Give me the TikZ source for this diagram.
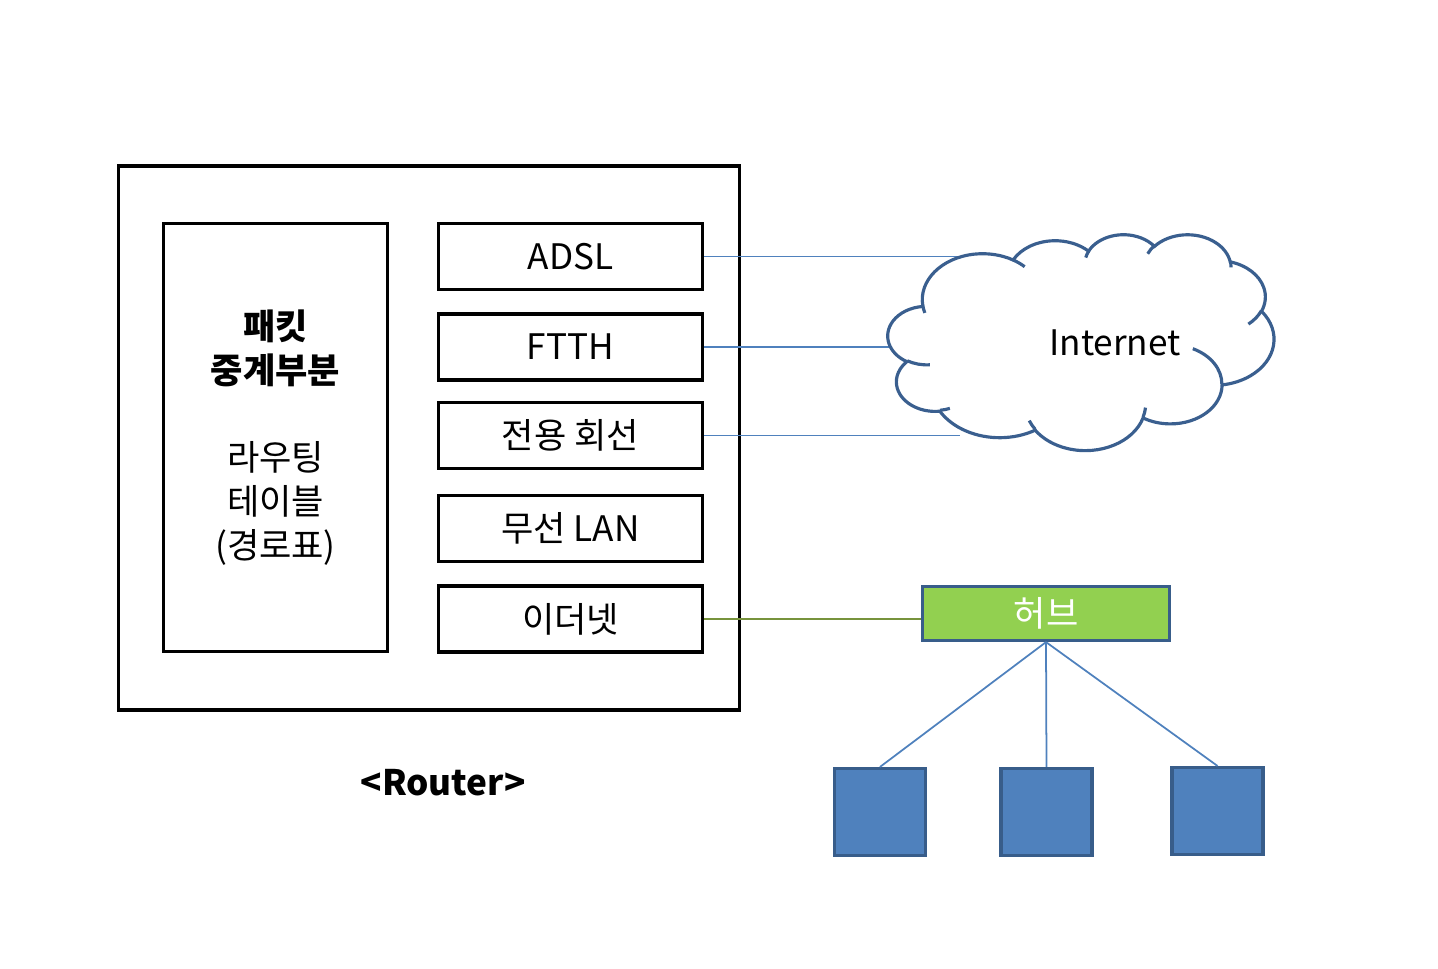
\documentclass[tikz,border=0pt]{standalone}
\usepackage{fontspec}
\setmainfont{Noto Sans CJK KR}
\definecolor{linkblue}{HTML}{4F81BD}
\definecolor{edgeblue}{HTML}{385D8A}
\definecolor{cloudblue}{HTML}{3A5F8F}
\definecolor{hubgreen}{HTML}{92D050}
\definecolor{olive}{HTML}{77933C}
% one lobe of the cloud, angles given as seen on the ellipse
\newcommand{\cloudlobe}[4]{arc[x radius=#1, y radius=#2,
    start angle={atan2(#1*sin(#3),#2*cos(#3))},
    delta angle={Mod(atan2(#1*sin(#3+#4),#2*cos(#3+#4))-atan2(#1*sin(#3),#2*cos(#3)),360)}]}
\begin{document}
\begin{tikzpicture}[x=0.02cm, y=-0.02cm]
        \tikzstyle{boxstyle}=[draw, line width=1.9pt, inner sep=0pt, font=\fontsize{20pt}{25pt}\selectfont]
        \tikzstyle{portstyle}=[boxstyle, minimum width=5.28cm, minimum height=1.32cm]
        \tikzstyle{pcstyle}=[draw=edgeblue, fill=linkblue, line width=1.8pt, minimum width=1.82cm, minimum height=1.74cm]
        \tikzstyle{linkstyle}=[draw=linkblue, line width=1pt]
        \useasboundingbox (0,0) rectangle (1438,968);

        % the router with its parts
        \node[boxstyle, minimum width=12.42cm, minimum height=10.88cm] at (429,438) (router) {};
        \node[boxstyle, minimum width=4.48cm, minimum height=8.56cm, align=center] at (275.5,437.5) (table)
            {\textbf{패킷}\\\textbf{중계부분}\\[25pt]라우팅\\테이블\\(경로표)};
        \node[portstyle] at (570.5,256.5) (adsl) {ADSL};
        \node[portstyle] at (570.5,347) (ftth) {FTTH};
        \node[portstyle] at (570.5,435.5) (leased) {전용 회선};
        \node[portstyle] at (570.5,528.5) (wlan) {무선 LAN};
        \node[portstyle] at (570.5,619) (ether) {이더넷};
        \node[font=\bfseries\fontsize{20pt}{24pt}\selectfont] at (443,783) (routerlabel) {<Router>};

        % lines into the cloud
        \coordinate (adslend) at (960,257);
        \coordinate (ftthend) at (895,347);
        \coordinate (leasedend) at (960,436);
        \draw[linkstyle] (adsl.east) -- (adsl.east -| adslend);
        \draw[linkstyle] (ftth.east) -- (ftth.east -| ftthend);
        \draw[linkstyle] (leased.east) -- (leased.east -| leasedend);

        % the cloud
        \begin{scope}[shift={(888,234)}, x=0.01787cm, y=-0.01cm, draw=cloudblue, line width=1.8pt]
            \draw[fill=white] (39,143.7) \cloudlobe{67.53}{91.90}{-190.4875}{123.7805}
                \cloudlobe{53.33}{72.67}{-144.1024}{89.9452}
                \cloudlobe{43.65}{59.45}{-145.8079}{99.7230}
                \cloudlobe{48.57}{65.95}{-130.9861}{117.2417}
                \cloudlobe{53.33}{72.73}{-78.7089}{109.0269}
                \cloudlobe{67.75}{92.20}{-46.2673}{130.2690}
                \cloudlobe{57.85}{78.67}{0.6250}{114.0333}
                \cloudlobe{67.52}{92.15}{22.4516}{115.1726}
                \cloudlobe{77.20}{105.43}{66.2426}{75.7110}
                \cloudlobe{43.60}{59.18}{-274.9421}{146.7356}
                \cloudlobe{43.45}{59.45}{-246.8285}{152.5189} -- cycle;
            \draw (46.93,261.77) \cloudlobe{43.45}{59.45}{86.7420}{26.4295}
                (69.28,348.99) \cloudlobe{43.60}{59.18}{73.6105}{11.4475}
                (164.78,390.90) \cloudlobe{67.52}{92.15}{137.6242}{14.0811}
                (288.27,347.51) \cloudlobe{67.52}{92.15}{6.4533}{15.9984}
                (341.29,229.54) \cloudlobe{57.85}{78.67}{-70.2924}{70.9174}
                (417.98,153.54) \cloudlobe{53.33}{72.73}{30.3180}{27.7515}
                (383.24,54.26) \cloudlobe{48.57}{65.95}{-13.7443}{14.8589}
                (290.78,39.52) \cloudlobe{48.57}{65.95}{-149.1815}{18.1954}
                (221.41,47.20) \cloudlobe{43.65}{59.45}{-163.4943}{17.6864}
                (140.00,51.92) \cloudlobe{67.53}{91.90}{-66.7070}{12.3194}
                (41.27,157.89) \cloudlobe{67.53}{91.90}{157.6544}{11.8582};
        \end{scope}
        \node[font=\fontsize{20pt}{24pt}\selectfont] at (1115,343) (internet) {Internet};

        % hub and the computers below it
        \node[draw=edgeblue, fill=hubgreen, line width=1.8pt, minimum width=4.94cm, minimum height=1.08cm,
            text=white, font=\fontsize{20pt}{24pt}\selectfont] at (1046,613.5) (hub) {허브};
        \draw[draw=olive, line width=1pt] (ether.east) -- (ether.east -| hub.west);
        \node[pcstyle] at (880,812) (pc1) {};
        \node[pcstyle] at (1046.5,812) (pc2) {};
        \node[pcstyle] at (1217.5,811) (pc3) {};
        \draw[linkstyle] (hub.south) -- (pc1.north);
        \draw[linkstyle] (hub.south) -- (pc2.north);
        \draw[linkstyle] (hub.south) -- (pc3.north);
    \end{tikzpicture}
\end{document}
